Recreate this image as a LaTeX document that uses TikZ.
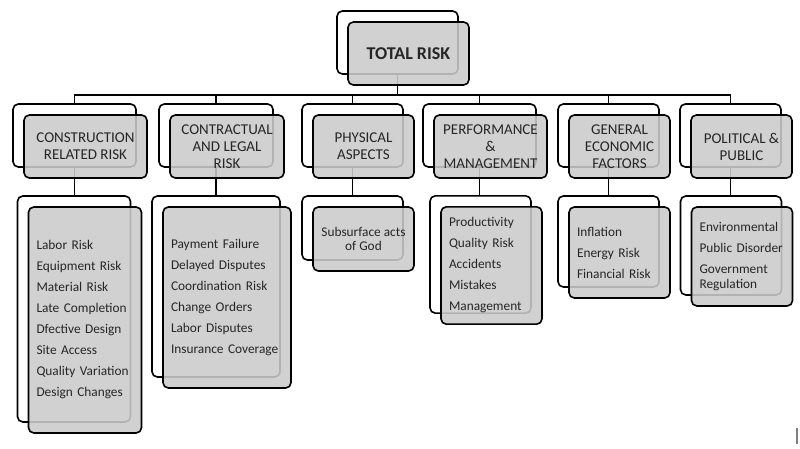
\documentclass[tikz,border=0pt]{standalone}
\usepackage{fontspec}
\setmainfont{Carlito}
\usepackage{tikz}
\usetikzlibrary{backgrounds}
\definecolor{RiskGrey}{HTML}{CBCBCB}

\begin{document}
\begin{tikzpicture}[
  x=0.75pt, y=-0.75pt,
  back/.style={draw, line width=1.2pt, rounded corners=4pt, fill=white},
  front/.style={draw, line width=1.2pt, rounded corners=4pt, fill=RiskGrey, fill opacity=0.88,
    text opacity=1, text=black!85, align=center},
  dim/.style 2 args={minimum width=#1, minimum height=#2},
  head/.style={font=\fontsize{11.25}{12.75}\selectfont},
  items/.style={font=\fontsize{10}{15.75}\selectfont, align=left, inner xsep=6pt, text width=#1},
  link/.style={line width=1.1pt}
]
  \useasboundingbox (0,0) rectangle (800,449);

  % top
  \node[back, dim={90.75pt}{47.25pt}] (totalb) at (397.5,42.5) {};
  \node[front, dim={90.75pt}{47.25pt}, font=\fontsize{13.5}{16}\selectfont\bfseries] (total)
    at ([shift={(11,11)}]totalb.center) {TOTAL RISK};

  % categories
  \node[back, dim={92.25pt}{47.25pt}] (constrb) at (74.5,135.5) {};
  \node[front, head, dim={92.25pt}{47.25pt}] (constr) at ([shift={(11,11)}]constrb.center) {CONSTRUCTION\\RELATED RISK};
  \node[back, dim={85.5pt}{47.25pt}] (contrb) at (216,135.5) {};
  \node[front, head, dim={85.5pt}{47.25pt}] (contr) at ([shift={(11,11)}]contrb.center) {CONTRACTUAL\\AND LEGAL\\RISK};
  \node[back, dim={75.75pt}{47.25pt}] (physb) at (352.5,135.5) {};
  \node[front, head, dim={75.75pt}{47.25pt}] (phys) at ([shift={(11,11)}]physb.center) {PHYSICAL\\ASPECTS};
  \node[back, dim={84.75pt}{47.25pt}] (perfb) at (479.5,135.5) {};
  \node[front, head, dim={84.75pt}{47.25pt}] (perf) at ([shift={(11,11)}]perfb.center) {PERFORMANCE\\\&\\MANAGEMENT};
  \node[back, dim={75.75pt}{47.25pt}] (econb) at (608.5,135.5) {};
  \node[front, head, dim={75.75pt}{47.25pt}] (econ) at ([shift={(11,11)}]econb.center) {GENERAL\\ECONOMIC\\FACTORS};
  \node[back, dim={75.75pt}{47.25pt}] (polb) at (730.5,135.5) {};
  \node[front, head, dim={75.75pt}{47.25pt}] (pol) at ([shift={(11,11)}]polb.center) {POLITICAL \&\\PUBLIC};

  % risk lists
  \node[back, dim={84.75pt}{169.5pt}] (conlistb) at (74,309) {};
  \node[front, items=72.75pt, dim={84.75pt}{169.5pt}] (conlist) at ([shift={(11,11)}]conlistb.center)
    {Labor Risk\\Equipment Risk\\Material Risk\\Late Completion\\Dfective Design\\Site Access\\Quality Variation\\Design Changes};
  \node[back, dim={96pt}{135.75pt}] (ctrlistb) at (216,286.5) {};
  \node[front, items=84pt, dim={96pt}{135.75pt}] (ctrlist) at ([shift={(11,11)}]ctrlistb.center)
    {Payment Failure\\Delayed Disputes\\Coordination Risk\\Change Orders\\Labor Disputes\\Insurance Coverage};
  \node[back, dim={75.75pt}{48pt}] (phylistb) at (352.5,228) {};
  \node[front, dim={75.75pt}{48pt}, font=\fontsize{10}{15.75}\selectfont] (phylist) at ([shift={(11,11)}]phylistb.center)
    {Subsurface acts\\[-5pt]of God};
  \node[back, dim={75.75pt}{88pt}] (perlistb) at (480.5,254.5) {};
  \node[front, items=63.75pt, dim={75.75pt}{88pt}] (perlist) at ([shift={(11,11)}]perlistb.center)
    {Productivity\\Quality Risk\\Accidents\\Mistakes\\Management};
  \node[back, dim={75.75pt}{68.25pt}] (ecolistb) at (608.5,241.5) {};
  \node[front, items=63.75pt, dim={75.75pt}{68.25pt}] (ecolist) at ([shift={(11,11)}]ecolistb.center)
    {Inflation\\Energy Risk\\Financial Risk};
  \node[back, dim={75.75pt}{74.25pt}] (pollistb) at (731,245.5) {};
  \node[front, items=63.75pt, dim={75.75pt}{74.25pt}] (pollist) at ([shift={(11,11)}]pollistb.center)
    {Environmental\\Public Disorder\\Government\\[-4.5pt]Regulation};

  \begin{pgfonlayer}{background}
    \draw[link] (totalb.south) -- ++(0,20) coordinate (bus);
    \foreach \c in {constrb,contrb,physb,perfb,econb,polb}
      \draw[link] (bus) -| (\c.north);
    \draw[link] (constrb.south) -- (constrb.south |- conlistb.north);
    \draw[link] (contrb.south) -- (contrb.south |- ctrlistb.north);
    \draw[link] (physb.south) -- (physb.south |- phylistb.north);
    \draw[link] (perfb.south) -- (perfb.south |- perlistb.north);
    \draw[link] (econb.south) -- (econb.south |- ecolistb.north);
    \draw[link] (polb.south) -- (polb.south |- pollistb.north);
  \end{pgfonlayer}

  % cursor mark
  \draw[gray, line width=0.8pt] (797,428) -- (797,444);
\end{tikzpicture}
\end{document}
